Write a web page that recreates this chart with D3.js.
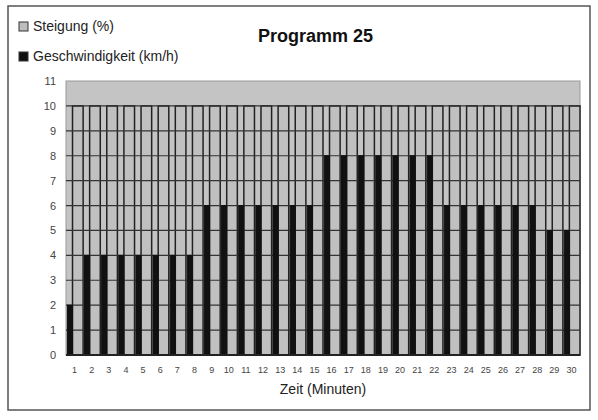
<!DOCTYPE html>
<html><head><meta charset="utf-8">
<script src="https://cdn.jsdelivr.net/npm/d3@7"></script>
<style>body{margin:0;background:#fff;font-family:Arial,"Liberation Sans",sans-serif}</style>
</head><body>
<svg id="c" width="598" height="420"></svg>
<script>
var minutes = d3.range(1, 31);
var steigung = minutes.map(function () { return 10; });
var speed = [2,4,4,4,4,4,4,4,6,6,6,6,6,6,6,8,8,8,8,8,8,8,6,6,6,6,6,6,5,5];
var yTicks = d3.range(0, 12);

var svg = d3.select("#c");
svg.append("rect").attr("x", 8).attr("y", 6).attr("width", 582).attr("height", 404)
    .attr("fill", "#fff").attr("stroke", "#555").attr("stroke-width", 1.5);

var pLeft = 66, pRight = 580, pTop = 81, pBottom = 355;
var x = d3.scaleBand().domain(minutes).range([pLeft, pRight]).padding(0);
var y = d3.scaleLinear().domain([0, 11]).range([pBottom, pTop]);

// plot background
svg.append("rect").attr("x", pLeft).attr("y", pTop).attr("width", pRight - pLeft)
    .attr("height", pBottom - pTop).attr("fill", "#c4c4c4").attr("stroke", "#999");

var bw = x.bandwidth();
// grey bars (Steigung)
svg.selectAll(".st").data(minutes).enter().append("rect")
    .attr("x", function (d) { return x(d) + bw * 0.38; })
    .attr("y", function (d, i) { return y(steigung[i]); })
    .attr("width", bw * 0.62)
    .attr("height", function (d, i) { return y(0) - y(steigung[i]); })
    .attr("fill", "#c0c0c0").attr("stroke", "#222").attr("stroke-width", 1.5);

// gridlines
svg.selectAll(".gl").data(yTicks.slice(1, 11)).enter().append("line")
    .attr("x1", pLeft).attr("x2", pRight)
    .attr("y1", function (d) { return y(d); }).attr("y2", function (d) { return y(d); })
    .attr("stroke", "#333").attr("stroke-width", 1.2);

// black bars (speed)
svg.selectAll(".sp").data(minutes).enter().append("rect")
    .attr("x", function (d) { return x(d) + bw * 0.08; })
    .attr("y", function (d, i) { return y(speed[i]); })
    .attr("width", bw * 0.3)
    .attr("height", function (d, i) { return y(0) - y(speed[i]); })
    .attr("fill", "#111").attr("stroke", "#111");

svg.append("line").attr("x1", pLeft).attr("x2", pRight).attr("y1", pBottom).attr("y2", pBottom)
    .attr("stroke", "#222").attr("stroke-width", 2);

// axes
var yAxis = svg.append("g").attr("transform", "translate(" + (pLeft - 4) + ",0)")
    .call(d3.axisLeft(y).tickValues(yTicks).tickSize(0).tickPadding(6));
yAxis.select(".domain").remove();
yAxis.selectAll("text").attr("font-size", 11).attr("fill", "#444");

var xAxis = svg.append("g").attr("transform", "translate(0," + (pBottom + 4) + ")")
    .call(d3.axisBottom(x).tickSize(0).tickPadding(8));
xAxis.select(".domain").remove();
xAxis.selectAll("text").attr("font-size", 9).attr("fill", "#444");

svg.append("text").attr("x", 323).attr("y", 394).attr("text-anchor", "middle")
    .attr("font-size", 14).attr("fill", "#222").text("Zeit (Minuten)");

svg.append("text").attr("x", 258).attr("y", 42).attr("font-size", 18)
    .attr("font-weight", "bold").attr("fill", "#111").text("Programm 25");

// legend
var legend = [["Steigung (%)", "#bdbdbd"], ["Geschwindigkeit (km/h)", "#111"]];
legend.forEach(function (l, i) {
    var ly = 30 + i * 30;
    svg.append("rect").attr("x", 19).attr("y", ly - 8).attr("width", 9).attr("height", 9)
        .attr("fill", l[1]).attr("stroke", "#333");
    svg.append("text").attr("x", 33).attr("y", ly + 1).attr("font-size", 14)
        .attr("fill", "#222").text(l[0]);
});
</script>
</body></html>
